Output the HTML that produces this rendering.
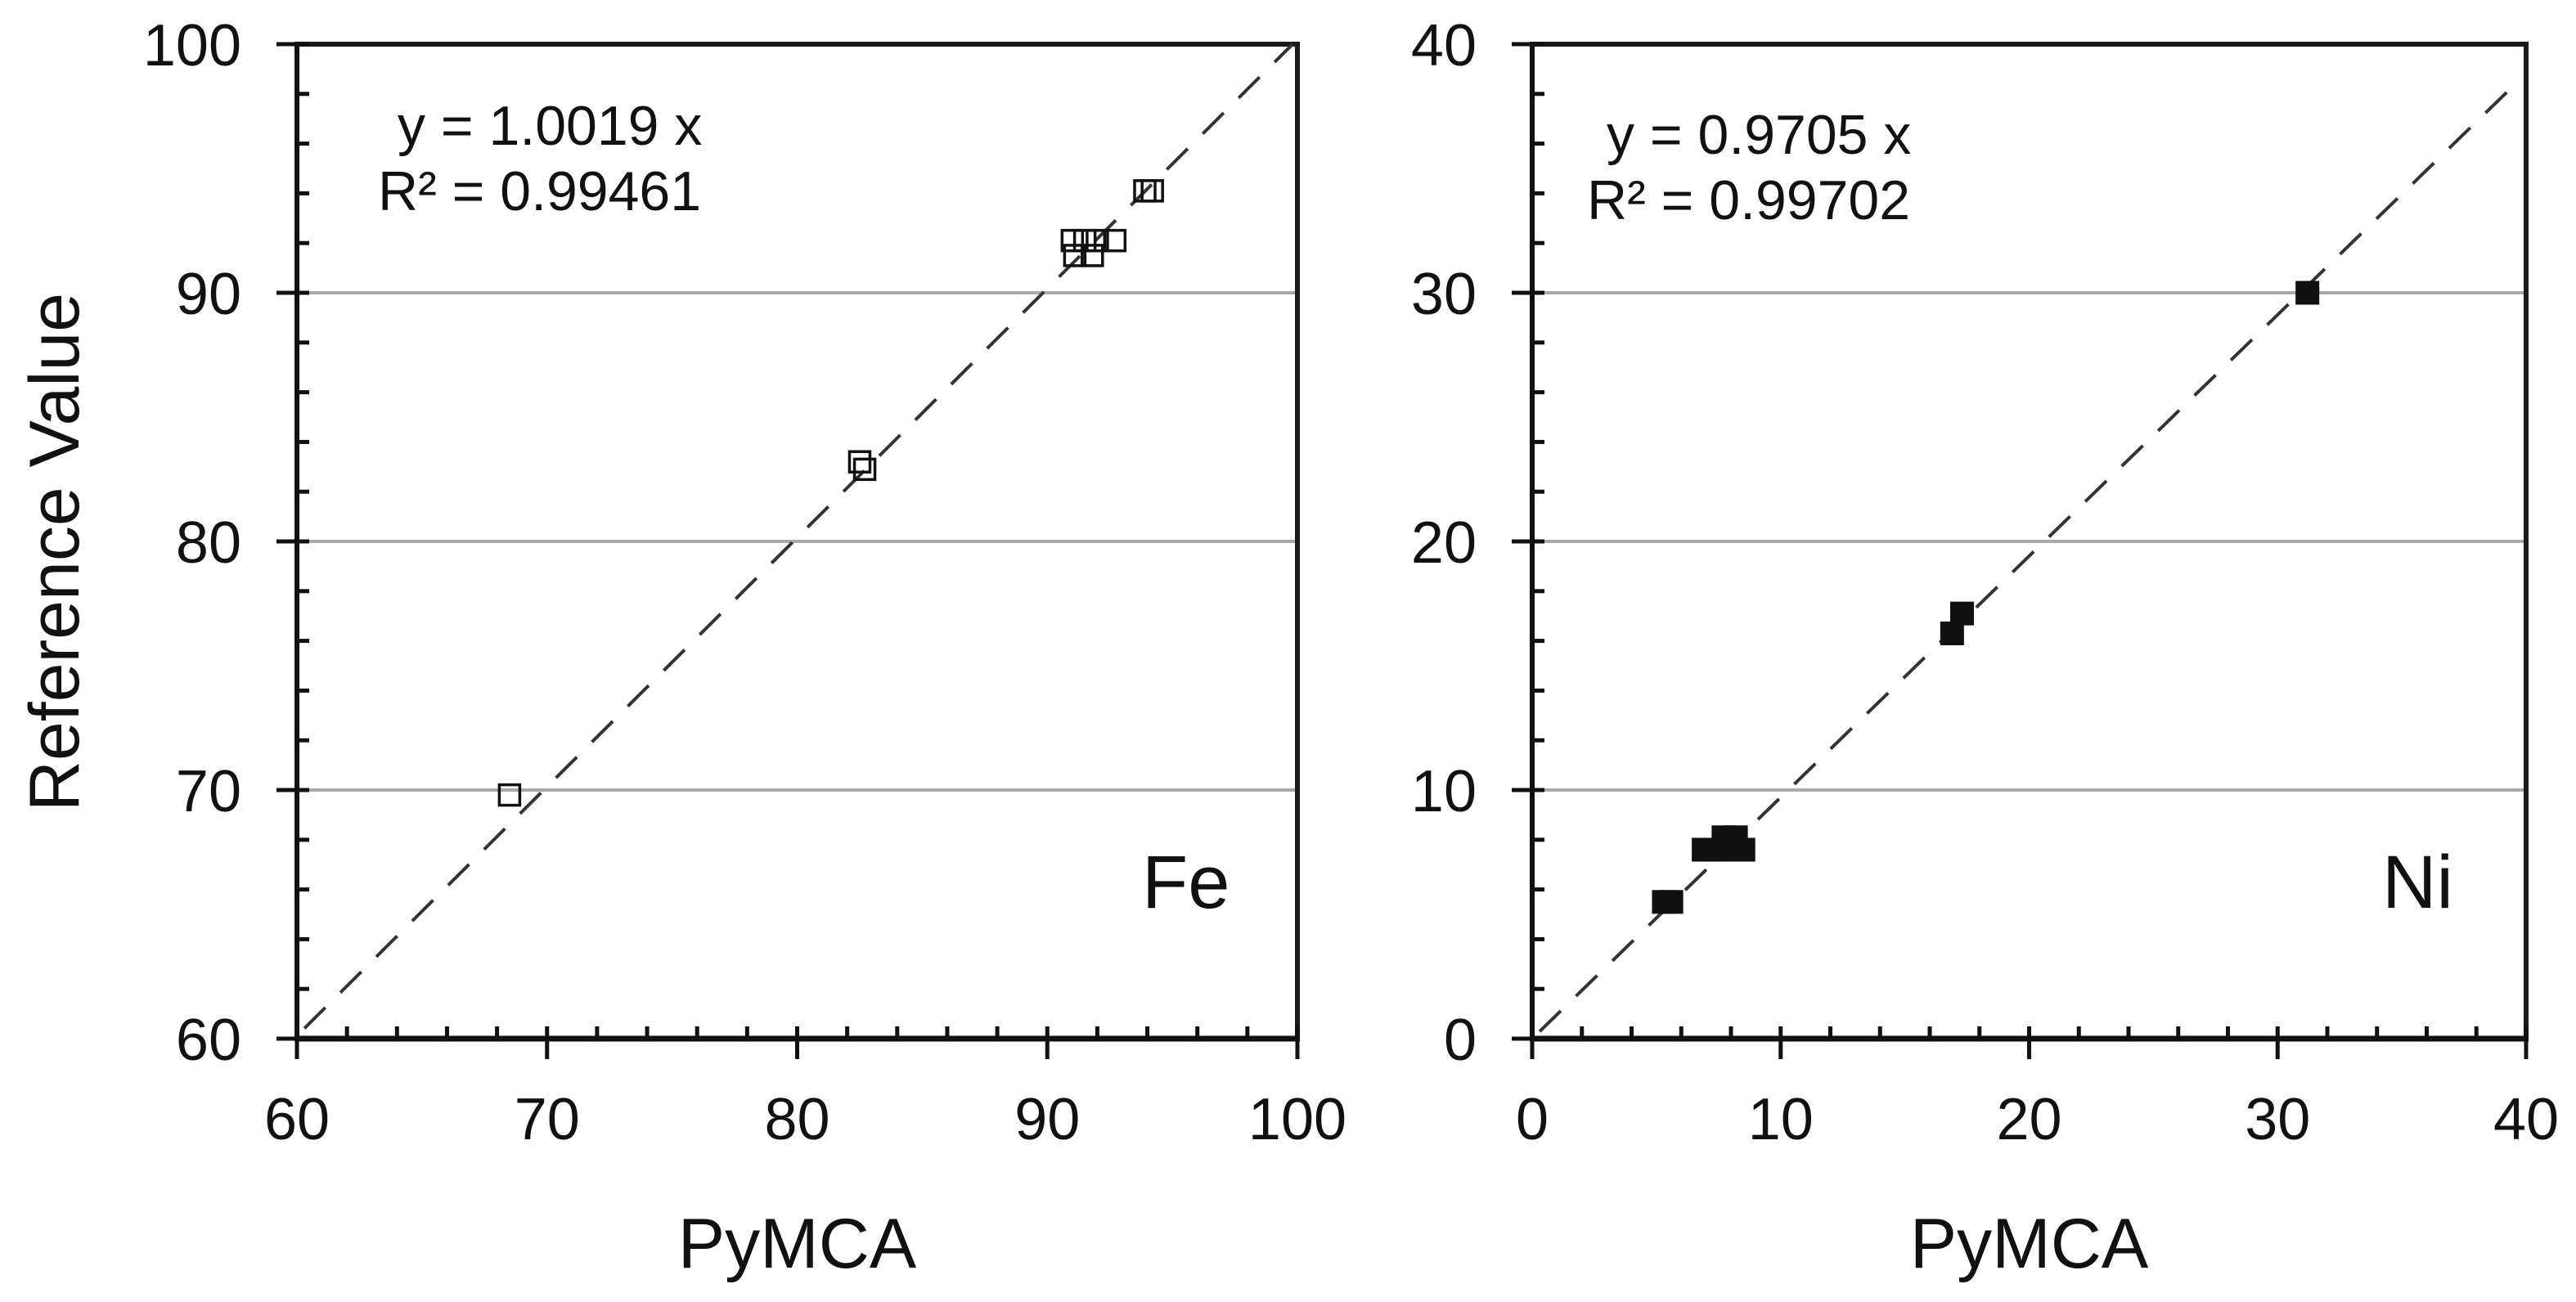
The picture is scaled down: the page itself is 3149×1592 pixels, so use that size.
<!DOCTYPE html>
<html><head><meta charset="utf-8"><style>
html,body{margin:0;padding:0;background:#fff;}
svg{display:block;font-family:"Liberation Sans",sans-serif;}
</style></head><body>
<svg id="chart" width="3149" height="1592" viewBox="0 0 3149 1592" xmlns="http://www.w3.org/2000/svg">
<g id="root"></g>
</svg>
<script>
const feX = [68.5, 82.5, 82.7, 91.0, 91.1, 91.5, 91.8, 92.0, 92.7, 94.2, 93.9];
const feY = [69.8, 83.2, 82.9, 92.1, 91.5, 92.1, 91.5, 92.1, 92.1, 94.1, 94.1];
const niX = [5.3, 5.6, 6.9, 7.3, 7.7, 8.2, 8.5, 7.8, 16.9, 17.3, 31.2];
const niY = [5.5, 5.5, 7.6, 7.6, 8.1, 8.1, 7.6, 7.6, 16.3, 17.1, 30.0];
const feTicks = [60, 70, 80, 90, 100];
const niTicks = [0, 10, 20, 30, 40];
const feSlope = 1.0019;
const niSlope = 0.9705;

const NS = 'http://www.w3.org/2000/svg';
const root = document.getElementById('root');
function mk(tag, attrs, parent, text) {
  const e = document.createElementNS(NS, tag);
  for (const k in attrs) e.setAttribute(k, attrs[k]);
  if (text !== undefined) e.textContent = text;
  (parent || root).appendChild(e);
  return e;
}

function panel(cfg) {
  const g = mk('g', {});
  
  
  const L = cfg.left, R = cfg.right, T = 54, B = 1270;
  const lo = cfg.ticks[0], hi = cfg.ticks[cfg.ticks.length - 1];
  const sx = v => L + (v - lo) / (hi - lo) * (R - L);
  const sy = v => B - (v - lo) / (hi - lo) * (B - T);
  cfg.ticks.slice(1, -1).forEach(t => {
    const l = mk('line', {x1: L, x2: R, y1: sy(t), y2: sy(t), stroke: '#a8a8a8', 'stroke-width': 4}, g);
    
    
  });
  const fr = mk('path', {d: `M${L},${T} L${R},${T} L${R},${B}`, fill: 'none', stroke: '#1a1a1a', 'stroke-width': 6}, g);
  
  
  const ya = mk('line', {x1: L, x2: L, y1: T - 3, y2: B + 3, stroke: '#111', 'stroke-width': 6}, g);
  
  
  const xa = mk('line', {x1: L - 3, x2: R + 3, y1: B, y2: B, stroke: '#111', 'stroke-width': 7}, g);
  
  
  for (let v = lo; v <= hi + 0.001; v += 2) {
    const major = Math.abs((v - lo) % 10) < 0.001;
    const x = sx(v), y = sy(v);
    mk('line', {x1: x, x2: x, y1: major ? B + 25 : B, y2: B - 15, stroke: '#111', 'stroke-width': 5}, g);
    mk('line', {x1: major ? L - 25 : L, x2: L + 15, y1: y, y2: y, stroke: '#111', 'stroke-width': 5}, g);
  }
  cfg.ticks.forEach(t => {
    const a = mk('text', {x: sx(t), y: 1393, 'font-size': 72, 'text-anchor': 'middle', fill: '#111'}, g, String(t));
    
    
    const b = mk('text', {x: L - 68, y: sy(t) + 26, 'font-size': 72, 'text-anchor': 'end', fill: '#111'}, g, String(t));
    
    
  });
  const x0 = Math.max(lo, lo / cfg.slope, lo + 0.3), x1 = Math.min(hi - 0.2, hi / cfg.slope);
  const fl = mk('line', {x1: sx(x0), y1: sy(x0 * cfg.slope), x2: sx(x1), y2: sy(x1 * cfg.slope), stroke: '#333', 'stroke-width': 4, 'stroke-dasharray': '36,26'}, g);
  
  
  cfg.xs.forEach((xv, i) => {
    const s = cfg.filled ? 28 : 25;
    const r = mk('rect', {x: sx(xv) - s / 2, y: sy(cfg.ys[i]) - s / 2, width: s, height: s,
      fill: cfg.filled ? '#111' : 'none', stroke: '#111', 'stroke-width': cfg.filled ? 1 : 3.5}, g);
    
    
  });
  const e1 = mk('text', {x: cfg.eqX, y: cfg.eqY, 'font-size': 68, fill: '#111'}, g, cfg.eq);
  
  
  const e2 = mk('text', {x: cfg.eqX - 24, y: cfg.eqY + 80, 'font-size': 68, fill: '#111'}, g, cfg.r2);
  
  
  const el = mk('text', {x: cfg.elX, y: 1110, 'font-size': 92, fill: '#111'}, g, cfg.el);
  
  
  const xt = mk('text', {x: (L + R) / 2, y: 1550, 'font-size': 86, 'text-anchor': 'middle', fill: '#111'}, g, 'PyMCA');
  
  
}

panel({name: 'fe', left: 363, right: 1586, ticks: feTicks, xs: feX, ys: feY, slope: feSlope, filled: false,
  eq: 'y = 1.0019 x', r2: 'R² = 0.99461', eqX: 486, eqY: 177, el: 'Fe', elX: 1396});
panel({name: 'ni', left: 1873, right: 3088, ticks: niTicks, xs: niX, ys: niY, slope: niSlope, filled: true,
  eq: 'y = 0.9705 x', r2: 'R² = 0.99702', eqX: 1964, eqY: 188, el: 'Ni', elX: 2912});

const yt = mk('text', {x: 0, y: 0, 'font-size': 86, 'text-anchor': 'middle', fill: '#111', transform: 'translate(96,675) rotate(-90)'}, root, 'Reference Value');


</script>
</body></html>
